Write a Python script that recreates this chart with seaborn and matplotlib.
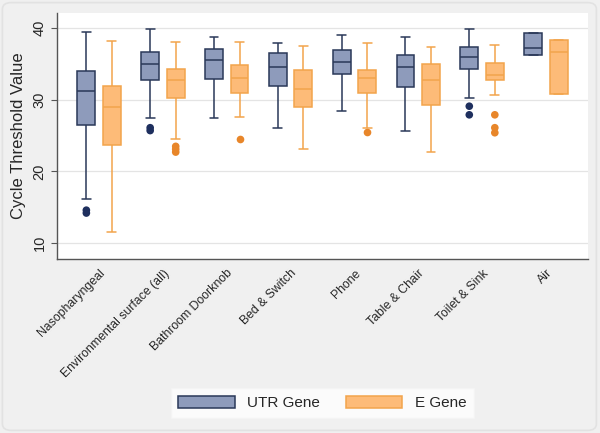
import numpy as np
import pandas as pd
import matplotlib.pyplot as plt
import seaborn as sns
from matplotlib.patches import Patch, FancyBboxPatch

plt.switch_backend("agg")

# categories and genes
sites = ["Nasopharyngeal", "Environmental surface (all)", "Bathroom Doorknob",
         "Bed & Switch", "Phone", "Table & Chair", "Toilet & Sink", "Air"]
genes = ["UTR Gene", "E Gene"]

# five-number summaries (whisker low, Q1, median, Q3, whisker high)
utr_low = [16.1, 27.4, 27.5, 26.0, 28.4, 25.6, 30.3, 36.25]
utr_q1 = [26.45, 32.75, 32.95, 31.9, 33.6, 31.75, 34.35, 36.25]
utr_med = [31.2, 35.0, 35.5, 34.6, 35.2, 34.5, 35.9, 37.25]
utr_q3 = [34.05, 36.7, 37.1, 36.5, 36.9, 36.3, 37.35, 39.25]
utr_high = [39.45, 39.8, 38.8, 37.85, 39.0, 38.75, 39.8, 39.25]

e_low = [11.5, 24.5, 27.6, 23.1, 26.0, 22.7, 30.7, 30.85]
e_q1 = [23.75, 30.2, 30.95, 29.0, 31.0, 29.3, 32.7, 30.85]
e_med = [28.95, 32.7, 33.1, 31.45, 33.0, 32.7, 33.45, 36.65]
e_q3 = [31.9, 34.3, 34.8, 34.1, 34.2, 35.0, 35.1, 38.3]
e_high = [38.2, 38.05, 38.05, 37.5, 37.95, 37.4, 37.7, 38.3]

# outliers (site, gene, value)
out_site = ["Nasopharyngeal", "Nasopharyngeal",
            "Environmental surface (all)", "Environmental surface (all)",
            "Environmental surface (all)", "Environmental surface (all)",
            "Environmental surface (all)", "Bathroom Doorknob", "Phone",
            "Toilet & Sink", "Toilet & Sink",
            "Toilet & Sink", "Toilet & Sink", "Toilet & Sink"]
out_gene = ["UTR Gene", "UTR Gene", "UTR Gene", "UTR Gene",
            "E Gene", "E Gene", "E Gene", "E Gene", "E Gene",
            "UTR Gene", "UTR Gene", "E Gene", "E Gene", "E Gene"]
out_value = [14.2, 14.6, 25.7, 26.1, 22.7, 23.1, 23.5, 24.5, 25.5,
             29.1, 27.9, 27.9, 26.1, 25.4]

fill_colors = {"UTR Gene": "#8e9bbb", "E Gene": "#fdbb78"}
line_colors = {"UTR Gene": "#2a3858", "E Gene": "#f2a44c"}
dot_colors = {"UTR Gene": "#1e2f5e", "E Gene": "#e8862a"}

# build long table: the five summary values per box
rows = []
stats = {"UTR Gene": (utr_low, utr_q1, utr_med, utr_q3, utr_high),
         "E Gene": (e_low, e_q1, e_med, e_q3, e_high)}
for gene in genes:
    for i, site in enumerate(sites):
        for arr in stats[gene]:
            rows.append({"site": site, "gene": gene, "ct": arr[i]})
df = pd.DataFrame(rows)
outliers = pd.DataFrame({"site": out_site, "gene": out_gene, "ct": out_value})

sns.set_style("white")
plt.rcParams["font.family"] = ["Liberation Sans", "DejaVu Sans"]

fig = plt.figure(figsize=(6, 4.33), dpi=100, facecolor="#f0f0f0")
fig.patches.append(FancyBboxPatch((0.004, 0.006), 0.99, 0.988,
                                  boxstyle="round,pad=0,rounding_size=0.015",
                                  transform=fig.transFigure, facecolor="none",
                                  edgecolor="#e2e2e2", linewidth=1.2))
ax = fig.add_axes([0.095, 0.402, 0.885, 0.568])

sns.boxplot(data=df, x="site", y="ct", hue="gene", order=sites,
            hue_order=genes, palette=fill_colors, saturation=1,
            linecolor=line_colors["UTR Gene"], linewidth=1.1, width=0.8,
            gap=0.3, whis=(0, 100), showfliers=False, legend=False, ax=ax)

# recolour the lines of the E Gene boxes (right of each category centre)
for line in ax.lines:
    xm = np.mean(line.get_xdata())
    if xm - round(xm) > 0:
        line.set_color(line_colors["E Gene"])
for patch in ax.patches:
    xm = patch.get_path().vertices[:, 0].mean()
    if xm - round(xm) > 0:
        patch.set_edgecolor(line_colors["E Gene"])

sns.stripplot(data=outliers, x="site", y="ct", hue="gene", order=sites,
              hue_order=genes, palette=dot_colors, dodge=True, jitter=False,
              size=5.5, linewidth=0, legend=False, ax=ax, zorder=3)

ax.set_xlim(-0.66, 7.66)
ax.set_ylim(7.8, 42.1)
ax.set_yticks([10, 20, 30, 40])
ax.yaxis.grid(True, color="#e4e4e4", linewidth=0.9)
ax.set_axisbelow(True)
ax.set_xlabel("")
ax.set_ylabel("Cycle Threshold Value", fontsize=12, labelpad=5)
ax.tick_params(axis="y", labelrotation=90, labelsize=10.5, length=4,
               color="#555555", left=True)
for lab in ax.get_yticklabels():
    lab.set_verticalalignment("center")
ax.tick_params(axis="x", labelsize=8.8, length=0, pad=6)
plt.setp(ax.get_xticklabels(), rotation=45, ha="right", rotation_mode="anchor")
for side in ["top", "right"]:
    ax.spines[side].set_visible(False)
for side in ["left", "bottom"]:
    ax.spines[side].set_color("#555555")
    ax.spines[side].set_linewidth(1.0)

handles = [Patch(facecolor=fill_colors[g], edgecolor=line_colors[g], linewidth=1.1)
           for g in genes]
leg = fig.legend(handles, genes, loc="center", bbox_to_anchor=(0.537, 0.069),
                 ncol=2, fontsize=11, handlelength=3.7, handleheight=0.9,
                 columnspacing=1.7, frameon=True, fancybox=False,
                 borderpad=0.5)
leg.get_frame().set_facecolor("white")
leg.get_frame().set_edgecolor("#f4f4f4")

plt.savefig("out.png", dpi=100, facecolor=fig.get_facecolor())
plt.close()
